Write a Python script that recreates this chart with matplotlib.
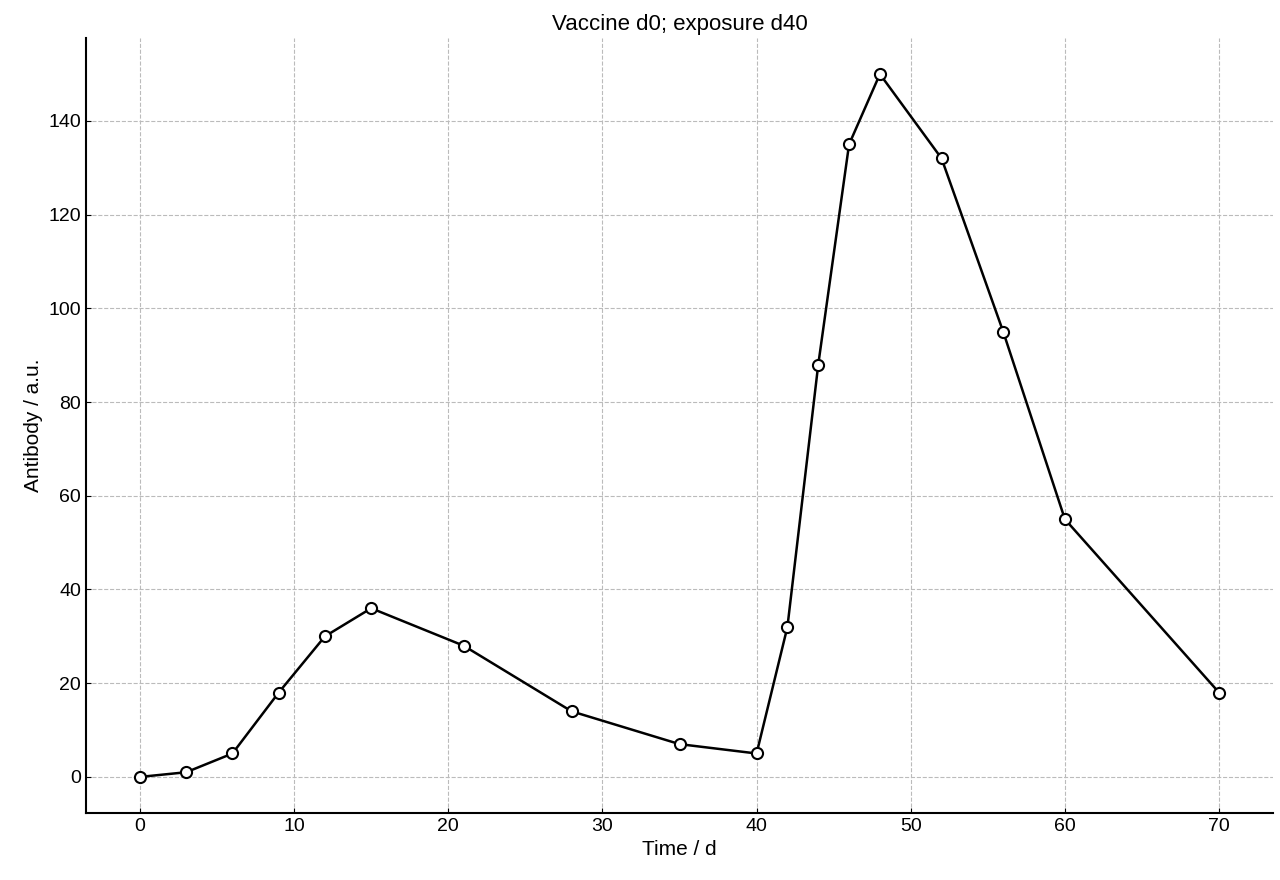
import matplotlib
matplotlib.use("Agg")
import matplotlib.pyplot as plt

days = [0, 3, 6, 9, 12, 15, 21, 28, 35, 40, 42, 44, 46, 48, 52, 56, 60, 70]
antibody = [0, 1, 5, 18, 30, 36, 28, 14, 7, 5, 32, 88, 135, 150, 132, 95, 55, 18]

plt.rcParams['font.family'] = ['Liberation Sans', 'DejaVu Sans']
fig = plt.figure(figsize=(12.8, 8.8), dpi=100)
ax = fig.add_axes([86/1280, 1-813/880, (1273-86)/1280, (813-38)/880])
ax.plot(days, antibody, color='black', lw=1.8, marker='o', ms=8,
        mfc='white', mec='black', mew=1.5, zorder=3)
ax.set_xlim(-3.5, 73.5)
ax.set_ylim(-7.7, 157.7)
ax.set_xticks(range(0, 71, 10))
ax.set_yticks(range(0, 141, 20))
ax.grid(True, ls='--', color='#bbbbbb', lw=0.8)
ax.tick_params(direction='in', labelsize=14)
for s in ['top', 'right']:
    ax.spines[s].set_visible(False)
for s in ['left', 'bottom']:
    ax.spines[s].set_linewidth(1.5)
ax.set_xlabel('Time / d', fontsize=15)
ax.set_ylabel('Antibody / a.u.', fontsize=15)
ax.set_title('Vaccine d0; exposure d40', fontsize=16)
fig.savefig('out.png', dpi=100)
